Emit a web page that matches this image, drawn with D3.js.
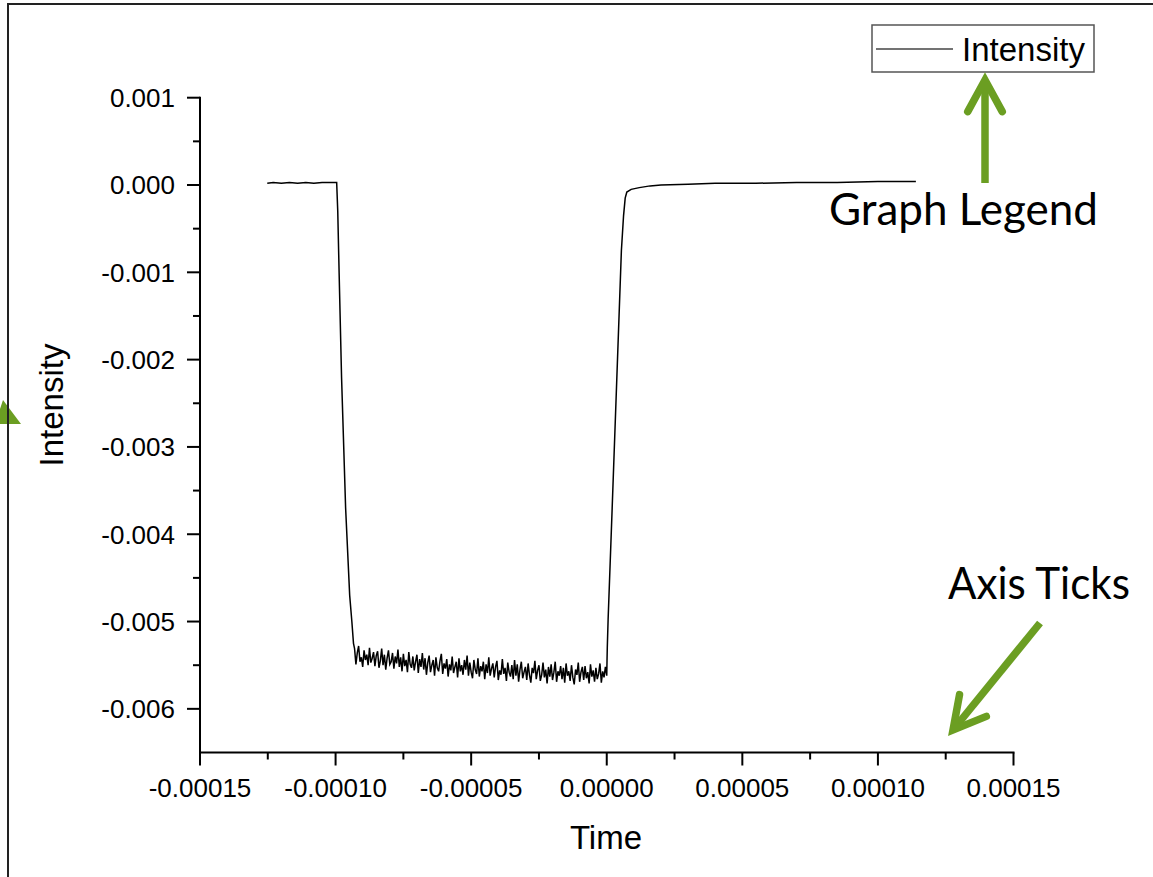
<!DOCTYPE html>
<html>
<head>
<meta charset="utf-8">
<script src="https://cdn.jsdelivr.net/npm/d3@7"></script>
<style>
  body { margin: 0; background: #fff; }
  svg { display: block; }
  .tick-label { font-family: "Liberation Sans", Arial, sans-serif; font-size: 26px; fill: #000; }
  .axis-title { font-family: "Liberation Sans", Arial, sans-serif; font-size: 33px; fill: #000; }
  .note { font-family: Lato, "Open Sans", sans-serif; font-size: 45px; fill: #000; }
</style>
</head>
<body>
<div id="chart"></div>
<script>
// values; time in microseconds, intensity in 1e-3 units
const xTickValues = [-0.00015, -0.0001, -0.00005, 0, 0.00005, 0.0001, 0.00015];
const yTickValues = [0.001, 0, -0.001, -0.002, -0.003, -0.004, -0.005, -0.006];

// flat part before the step
const preTime = [-125.2, -123, -120, -117, -114, -111, -108, -105, -102, -99.6];
const preValue = [0.02, 0.03, 0.02, 0.03, 0.02, 0.03, 0.02, 0.03, 0.03, 0.03];

// falling edge
const dropTime = [-99.2, -98.7, -97.8, -96.3, -94.8, -94.0, -93.4];
const dropValue = [-0.3, -1.0, -2.2, -3.7, -4.7, -5.0, -5.25];

// noisy bottom, sampled every 0.5 us from -93 us to 0
const plateauStart = -93.0;
const plateauStep = 0.5;
const plateauValue = [
  -5.31,-5.49,-5.36,-5.28,-5.46,-5.41,-5.52,-5.33,-5.44,-5.38,-5.50,-5.30,-5.47,-5.42,-5.35,-5.51,-5.39,
  -5.34,-5.53,-5.45,-5.31,-5.50,-5.38,-5.55,-5.42,-5.33,-5.49,-5.46,-5.36,-5.54,-5.40,-5.48,-5.32,-5.52,
  -5.41,-5.57,-5.37,-5.51,-5.44,-5.58,-5.35,-5.49,-5.53,-5.40,-5.56,-5.46,-5.38,-5.59,-5.43,-5.52,-5.36,
  -5.55,-5.42,-5.61,-5.47,-5.39,-5.58,-5.50,-5.44,-5.62,-5.41,-5.53,-5.57,-5.45,-5.37,-5.60,-5.48,-5.54,
  -5.43,-5.63,-5.49,-5.56,-5.40,-5.59,-5.52,-5.46,-5.64,-5.42,-5.57,-5.50,-5.61,-5.44,-5.55,-5.39,-5.62,
  -5.47,-5.58,-5.65,-5.44,-5.55,-5.60,-5.42,-5.63,-5.51,-5.57,-5.46,-5.66,-5.49,-5.59,-5.41,-5.62,-5.54,
  -5.48,-5.64,-5.52,-5.45,-5.67,-5.56,-5.61,-5.43,-5.60,-5.53,-5.68,-5.47,-5.58,-5.63,-5.50,-5.66,-5.44,
  -5.62,-5.49,-5.69,-5.55,-5.46,-5.65,-5.58,-5.52,-5.67,-5.48,-5.61,-5.70,-5.53,-5.59,-5.45,-5.66,-5.56,
  -5.50,-5.68,-5.61,-5.47,-5.64,-5.55,-5.71,-5.52,-5.63,-5.49,-5.67,-5.58,-5.46,-5.69,-5.57,-5.62,-5.51,
  -5.66,-5.53,-5.70,-5.48,-5.62,-5.57,-5.68,-5.50,-5.64,-5.72,-5.55,-5.61,-5.47,-5.69,-5.58,-5.52,-5.67,
  -5.51,-5.65,-5.58,-5.71,-5.49,-5.63,-5.56,-5.69,-5.53,-5.66,-5.60,-5.48,-5.70,-5.57,-5.64,-5.52,-5.62
];

// rising edge and the flat tail
const riseTime = [0.1, 0.2, 0.5, 2.0, 3.5, 5.4, 6.2, 6.8, 7.4, 9, 12, 16, 20, 30, 40, 55, 70, 85, 100, 114];
const riseValue = [-5.45, -5.3, -4.98, -3.7, -2.4, -0.75, -0.35, -0.15, -0.08, -0.05, -0.03, -0.01, 0.0, 0.01, 0.02, 0.02, 0.03, 0.03, 0.04, 0.04];

const seriesName = "Intensity";

class LineChart {
    constructor(parentElement) {
        this.parentElement = parentElement;
        this.initVis();
    }

    initVis() {
        let vis = this;
        vis.width = 1153;
        vis.height = 877;

        vis.svg = d3.select("#" + vis.parentElement)
            .append("svg")
            .attr("width", vis.width)
            .attr("height", vis.height);

        // put the series together (seconds, intensity)
        vis.data = [];
        preTime.forEach((t, i) => vis.data.push([t * 1e-6, preValue[i] * 1e-3]));
        dropTime.forEach((t, i) => vis.data.push([t * 1e-6, dropValue[i] * 1e-3]));
        plateauValue.forEach((v, i) => vis.data.push([(plateauStart + i * plateauStep) * 1e-6, v * 1e-3]));
        riseTime.forEach((t, i) => vis.data.push([t * 1e-6, riseValue[i] * 1e-3]));

        vis.x = d3.scaleLinear().domain([-0.00015, 0.00015]).range([200, 1013.5]);
        vis.y = d3.scaleLinear().domain([-0.0065, 0.001]).range([752.5, 97.7]);

        vis.drawAxes();
        vis.drawLine();
        vis.drawLegend();
        vis.drawNotes();

        // outer frame
        vis.svg.append("rect")
            .attr("x", 8).attr("y", 4)
            .attr("width", 1200).attr("height", 1000)
            .attr("fill", "none")
            .attr("stroke", "#222")
            .attr("stroke-width", 2);
    }

    drawAxes() {
        let vis = this;
        let fmtX = v => d3.format(".5f")(v).replace("\u2212", "-");
        let fmtY = v => d3.format(".3f")(v).replace("\u2212", "-");

        let minorX = d3.range(-0.000125, 0.00015, 0.00005);
        let minorY = d3.range(0.0005, -0.0065, -0.001);

        let xAxis = vis.svg.append("g")
            .attr("transform", "translate(0," + vis.y(-0.0065) + ")");
        xAxis.append("line")
            .attr("x1", vis.x(-0.00015) - 1).attr("x2", vis.x(0.00015) + 1)
            .attr("stroke", "#000").attr("stroke-width", 2);
        xAxis.selectAll(".major").data(xTickValues).enter().append("line")
            .attr("x1", d => vis.x(d)).attr("x2", d => vis.x(d))
            .attr("y1", 0).attr("y2", 13)
            .attr("stroke", "#000").attr("stroke-width", 2);
        xAxis.selectAll(".minor").data(minorX).enter().append("line")
            .attr("x1", d => vis.x(d)).attr("x2", d => vis.x(d))
            .attr("y1", 0).attr("y2", 7)
            .attr("stroke", "#000").attr("stroke-width", 2);
        xAxis.selectAll(".tick-label").data(xTickValues).enter().append("text")
            .attr("class", "tick-label")
            .attr("x", d => vis.x(d))
            .attr("y", 44)
            .attr("text-anchor", "middle")
            .text(fmtX);

        let yAxis = vis.svg.append("g")
            .attr("transform", "translate(" + vis.x(-0.00015) + ",0)");
        yAxis.append("line")
            .attr("y1", vis.y(0.001) - 1).attr("y2", vis.y(-0.0065) + 1)
            .attr("stroke", "#000").attr("stroke-width", 2);
        yAxis.selectAll(".major").data(yTickValues).enter().append("line")
            .attr("y1", d => vis.y(d)).attr("y2", d => vis.y(d))
            .attr("x1", -13).attr("x2", 0)
            .attr("stroke", "#000").attr("stroke-width", 2);
        yAxis.selectAll(".minor").data(minorY).enter().append("line")
            .attr("y1", d => vis.y(d)).attr("y2", d => vis.y(d))
            .attr("x1", -7).attr("x2", 0)
            .attr("stroke", "#000").attr("stroke-width", 2);
        yAxis.selectAll(".tick-label").data(yTickValues).enter().append("text")
            .attr("class", "tick-label")
            .attr("x", -25)
            .attr("y", d => vis.y(d))
            .attr("dy", "0.36em")
            .attr("text-anchor", "end")
            .text(fmtY);

        vis.svg.append("text")
            .attr("class", "axis-title")
            .attr("x", 606).attr("y", 849)
            .attr("text-anchor", "middle")
            .text("Time");

        vis.svg.append("text")
            .attr("class", "axis-title")
            .attr("transform", "translate(63,405) rotate(-90)")
            .attr("text-anchor", "middle")
            .text("Intensity");
    }

    drawLine() {
        let vis = this;
        let line = d3.line()
            .x(d => vis.x(d[0]))
            .y(d => vis.y(d[1]));

        vis.svg.append("path")
            .datum(vis.data)
            .attr("d", line)
            .attr("fill", "none")
            .attr("stroke", "#000")
            .attr("stroke-width", 1.5);
    }

    drawLegend() {
        let vis = this;
        let g = vis.svg.append("g");
        g.append("rect")
            .attr("x", 872).attr("y", 25)
            .attr("width", 222).attr("height", 47)
            .attr("fill", "#fff")
            .attr("stroke", "#555")
            .attr("stroke-width", 1.5);
        g.append("line")
            .attr("x1", 876).attr("x2", 953)
            .attr("y1", 49).attr("y2", 49)
            .attr("stroke", "#444").attr("stroke-width", 1.3);
        g.append("text")
            .attr("class", "axis-title")
            .attr("x", 962).attr("y", 61)
            .text(seriesName);
    }

    drawNotes() {
        let vis = this;
        let green = "#6b9e22";

        vis.svg.append("text").attr("class", "note")
            .attr("x", 829).attr("y", 225)
            .attr("textLength", 269).attr("lengthAdjust", "spacingAndGlyphs")
            .text("Graph Legend");
        vis.svg.append("text").attr("class", "note")
            .attr("x", 948).attr("y", 599)
            .attr("textLength", 182).attr("lengthAdjust", "spacingAndGlyphs")
            .text("Axis Ticks");

        let arrow = (x1, y1, x2, y2) => {
            let g = vis.svg.append("g")
                .attr("stroke", green).attr("fill", "none")
                .attr("stroke-width", 7.5)
                .attr("stroke-linecap", "round");
            g.append("line")
                .attr("x1", x1).attr("y1", y1)
                .attr("x2", x2).attr("y2", y2)
                .attr("stroke-linecap", "butt");
            let a = Math.atan2(y2 - y1, x2 - x1);
            let len = 36, spread = 0.5;
            let p1 = [x2 - len * Math.cos(a - spread), y2 - len * Math.sin(a - spread)];
            let p2 = [x2 - len * Math.cos(a + spread), y2 - len * Math.sin(a + spread)];
            g.append("path")
                .attr("d", "M" + p1 + "L" + [x2, y2] + "L" + p2)
                .attr("stroke-linejoin", "miter");
        };
        arrow(985, 183, 985, 80);
        arrow(1040, 623, 953, 730);

        // arrow tip cut off at the left edge
        vis.svg.append("path")
            .attr("d", "M0,409L3,400L21,424L0,424Z")
            .attr("fill", green);
    }
}

new LineChart("chart");
</script>
</body>
</html>
